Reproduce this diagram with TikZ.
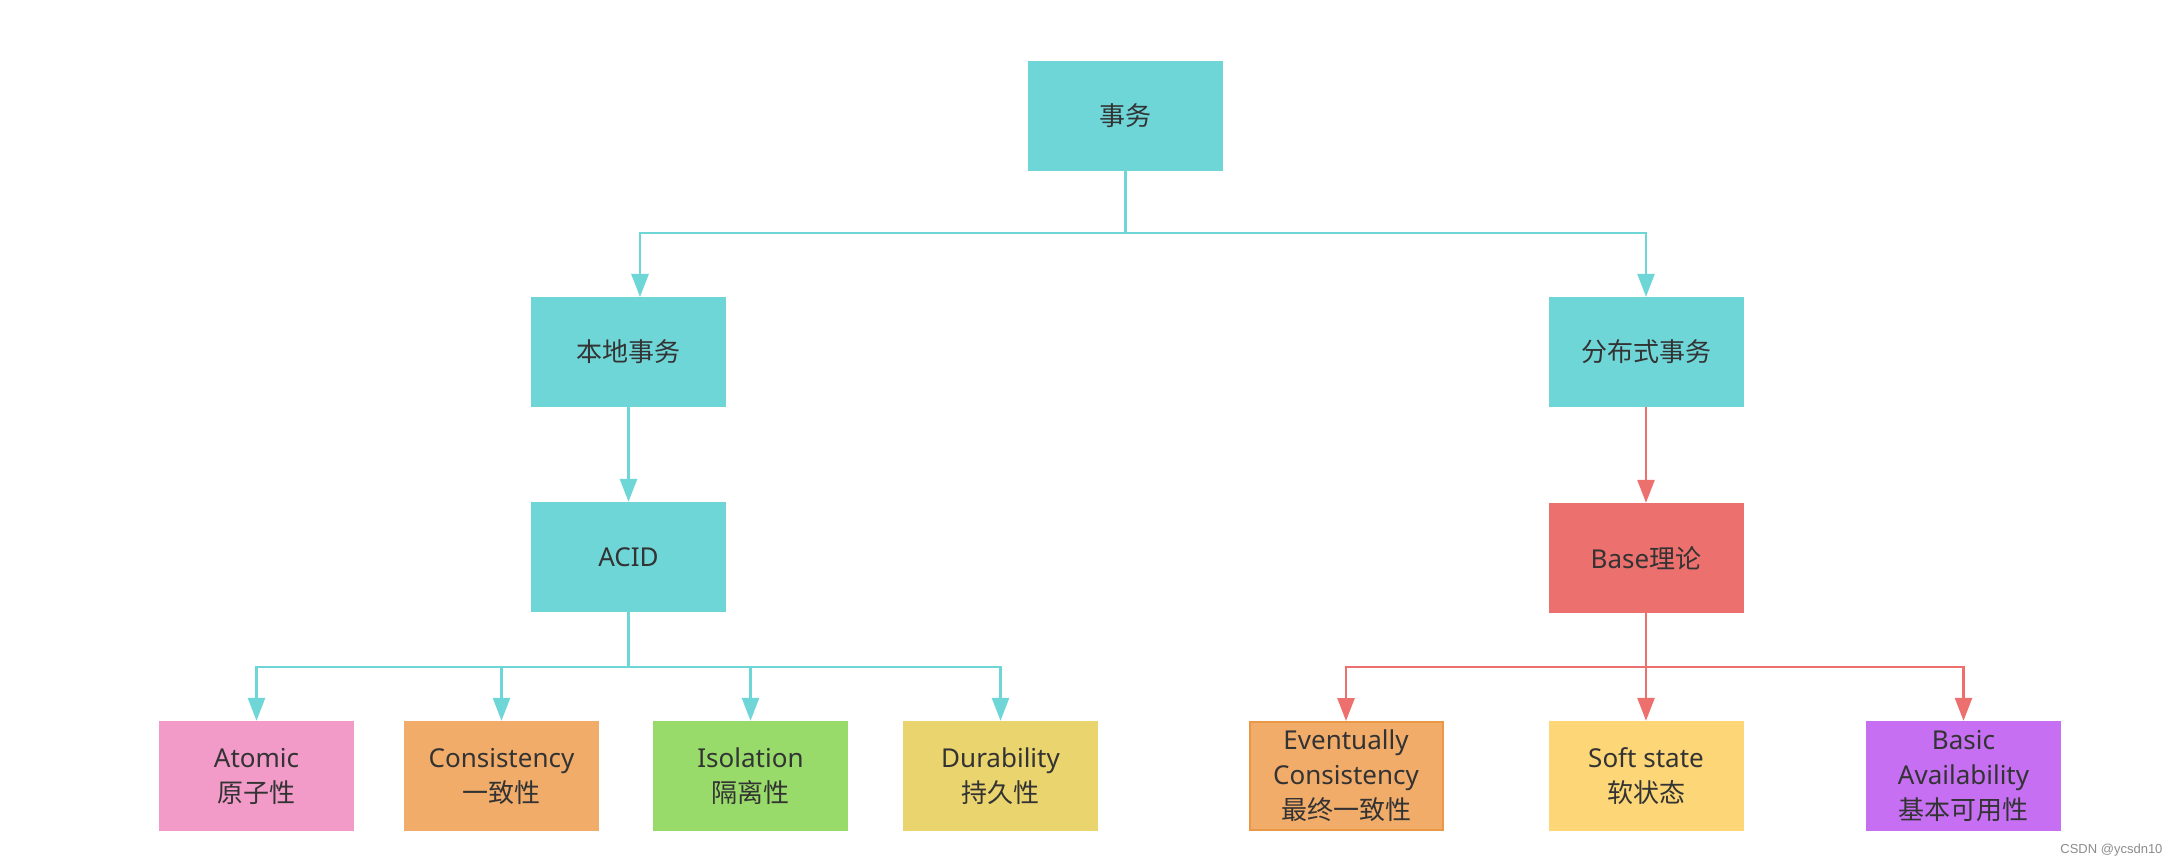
\documentclass[tikz,border=0pt]{standalone}
\usepackage{fontspec}
\setmainfont{Noto Sans}
\newfontfamily\cjk{Noto Sans CJK SC}
\newfontfamily\wm{Liberation Sans}
\usetikzlibrary{arrows.meta}
\definecolor{cteal}{HTML}{6FD6D8}
\definecolor{cred}{HTML}{EC716E}
\definecolor{cpink}{HTML}{F29BC9}
\definecolor{corange}{HTML}{F1AC6A}
\definecolor{corangeb}{HTML}{EA9848}
\definecolor{cgreen}{HTML}{98DB6A}
\definecolor{cyellow}{HTML}{E9D46E}
\definecolor{clyellow}{HTML}{FCD677}
\definecolor{cpurple}{HTML}{C66FF3}
\definecolor{ctext}{HTML}{333333}
\begin{document}
\begin{tikzpicture}[x=1pt,y=-1pt,
  box/.style={rectangle,minimum width=195pt,minimum height=110pt,inner sep=0pt,
    align=center,text=ctext,font=\fontsize{26}{35}\selectfont},
  tealline/.style={draw=cteal,line width=2.7pt,-{Triangle[length=23pt,width=17pt]}},
  redline/.style={draw=cred,line width=2.7pt,-{Triangle[length=23pt,width=17pt]}}]
\useasboundingbox[fill=white] (0,0) rectangle (2181,866);
% nodes
\node[box,fill=cteal] (root) at (1125.5,116) {\cjk 事务};
\node[box,fill=cteal] (local) at (628.5,352) {\cjk 本地事务};
\node[box,fill=cteal] (dist) at (1646,352) {\cjk 分布式事务};
\node[box,fill=cteal] (acid) at (628.5,557) {ACID};
\node[box,fill=cred] (base) at (1646,558) {Base{\cjk 理论}};
\node[box,fill=cpink] (atomic) at (256.5,776) {Atomic\\{\cjk 原子性}};
\node[box,fill=corange] (cons) at (501.5,776) {Consistency\\{\cjk 一致性}};
\node[box,fill=cgreen] (iso) at (750.5,776) {Isolation\\{\cjk 隔离性}};
\node[box,fill=cyellow] (dur) at (1000.5,776) {Durability\\{\cjk 持久性}};
\node[box,fill=corange,draw=corangeb,line width=2pt,minimum width=193pt,minimum height=108pt] (ev) at (1346,776) {Eventually\\Consistency\\{\cjk 最终一致性}};
\node[box,fill=clyellow] (soft) at (1646,776) {Soft state\\{\cjk 软状态}};
\node[box,fill=cpurple] (basic) at (1963.5,776) {Basic\\Availability\\{\cjk 基本可用性}};
% junction coordinates
\coordinate (j1) at (1125.5,233);
\coordinate (j2) at (628.5,667);
\coordinate (j3) at (1646,667);
\coordinate (localin) at (640,297);
% connectors
\draw[tealline] (root.south) -- (j1) -| (localin);
\draw[tealline] (root.south) -- (j1) -| (dist.north);
\draw[tealline] (local.south) -- (acid.north);
\draw[redline] (dist.south) -- (base.north);
\foreach \t in {atomic,cons,iso,dur}{
  \draw[tealline] (acid.south) -- (j2) -| (\t.north);
}
\draw[redline] (base.south) -- (j3) -| (ev.north);
\draw[redline] (base.south) -- (soft.north);
\draw[redline] (base.south) -- (j3) -| (basic.north);
% watermark
\node[text=black!45,font=\wm\fontsize{13}{15}\selectfont,anchor=east] (wm) at (2166,850) {CSDN @ycsdn10};
\end{tikzpicture}
\end{document}
